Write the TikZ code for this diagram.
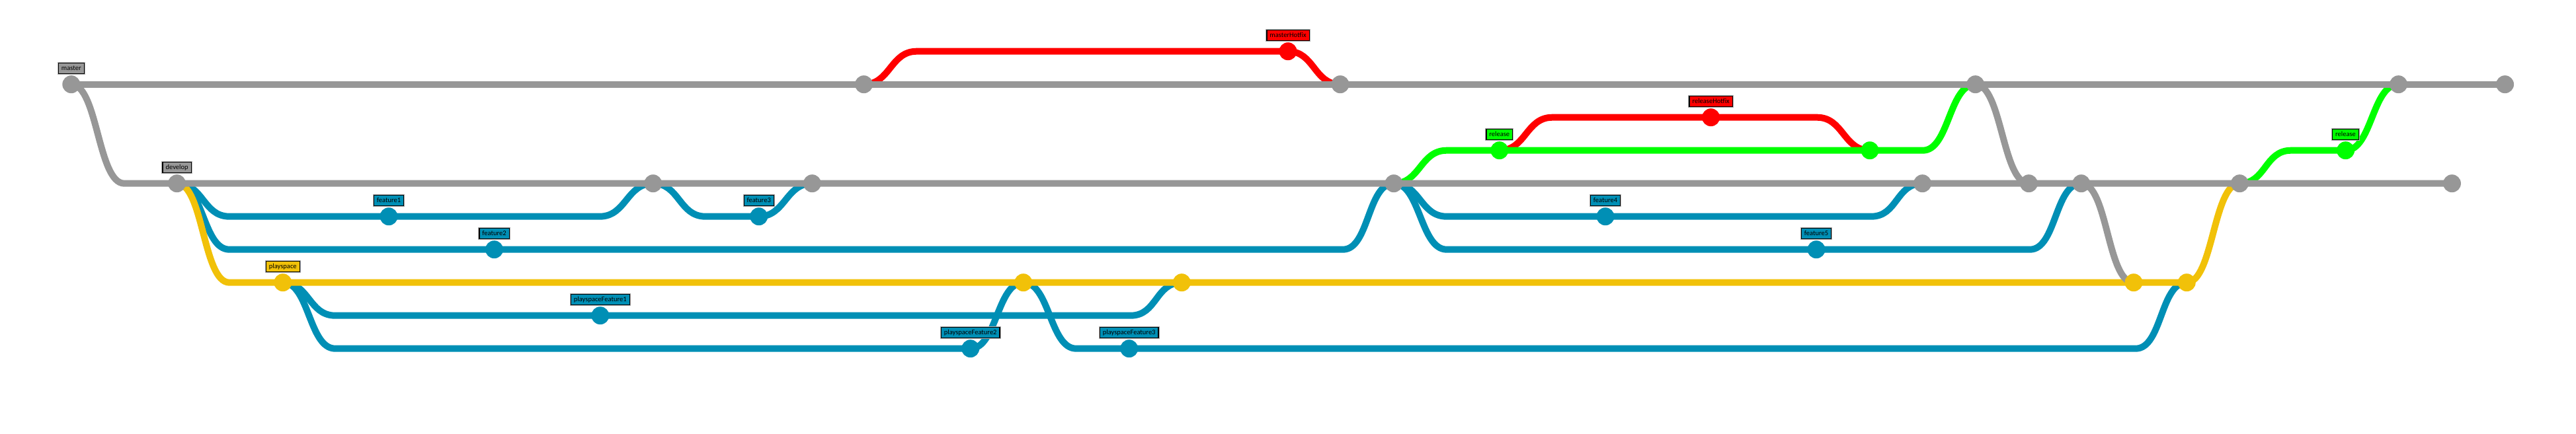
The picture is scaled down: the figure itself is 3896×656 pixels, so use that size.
\documentclass[tikz,border=0pt]{standalone}
\usepackage{fontspec}
\setmainfont{Carlito}
\pgfdeclarelayer{bg}
\pgfsetlayers{bg,main}
\definecolor{cgrey}{HTML}{979797}
\definecolor{cteal}{HTML}{008FB5}
\definecolor{cyel}{HTML}{F1C109}
\definecolor{cred}{HTML}{FF0000}
\definecolor{cgrn}{HTML}{00FF00}
\begin{document}
\begin{tikzpicture}[x=1pt,y=-1pt,
  cm/.style={circle,fill=#1,inner sep=0pt,minimum size=27pt},
  br/.style={draw=#1,line width=10pt},
  lbl/.style={fill=#1,draw=black,line width=1.2pt,
    preaction={draw=gray!60,line width=3.2pt},
    inner xsep=4.5pt,inner ysep=0pt,minimum height=16pt,
    text height=7.3pt,text depth=2.2pt,
    font=\fontsize{10.5}{12}\selectfont}]
\useasboundingbox (0,0) rectangle (3896,656);

% ---- commits ----
\node[cm=cgrey] (m1) at (107.8,127.7) {};
\node[cm=cgrey] (m2) at (1306.5,127.7) {};
\node[cm=cgrey] (m3) at (2027,127.7) {};
\node[cm=cgrey] (m4) at (2987.6,127.7) {};
\node[cm=cgrey] (m5) at (3627.5,127.7) {};
\node[cm=cgrey] (m6) at (3788.5,127.7) {};
\node[cm=cgrey] (d1) at (267.6,277.7) {};
\node[cm=cgrey] (d2) at (987.7,277.7) {};
\node[cm=cgrey] (d3) at (1228.3,277.7) {};
\node[cm=cgrey] (d4) at (2108,277.7) {};
\node[cm=cgrey] (d5) at (2907.5,277.7) {};
\node[cm=cgrey] (d6) at (3068.4,277.7) {};
\node[cm=cgrey] (d7) at (3147.7,277.7) {};
\node[cm=cgrey] (d8) at (3387.3,277.7) {};
\node[cm=cgrey] (d9) at (3708.4,277.7) {};
\node[cm=cred] (h1) at (1948,77.7) {};
\node[cm=cgrn] (r1) at (2267.8,227.7) {};
\node[cm=cgrn] (r3) at (2828,227.7) {};
\node[cm=cgrn] (r2) at (3547.5,227.7) {};
\node[cm=cred] (rh1) at (2587.6,177.7) {};
\node[cm=cteal] (f1) at (588,327.7) {};
\node[cm=cteal] (f2) at (747.5,377.7) {};
\node[cm=cteal] (f3) at (1147.7,327.7) {};
\node[cm=cteal] (f4) at (2428,327.7) {};
\node[cm=cteal] (f5) at (2747,377.7) {};
\node[cm=cyel] (p1) at (427.8,427.7) {};
\node[cm=cyel] (p2) at (1547.7,427.7) {};
\node[cm=cyel] (p3) at (1787.3,427.7) {};
\node[cm=cyel] (p4) at (3227,427.7) {};
\node[cm=cyel] (p5) at (3307.2,427.7) {};
\node[cm=cteal] (q1) at (907.8,477.7) {};
\node[cm=cteal] (q2) at (1467.7,527.7) {};
\node[cm=cteal] (q3) at (1707.7,527.7) {};

% ---- waypoints ----
\coordinate (a1) at (188,277.7);
\coordinate (b1) at (347,327.7);
\coordinate (b4) at (347,377.7);
\coordinate (c1) at (347,427.7);
\coordinate (b2) at (907,327.7);
\coordinate (b3) at (1067,327.7);
\coordinate (b5) at (2031,377.7);
\coordinate (b6) at (2188,327.7);
\coordinate (b8) at (2188,377.7);
\coordinate (g1) at (2188,227.7);
\coordinate (b7) at (2830,327.7);
\coordinate (b9) at (3070,377.7);
\coordinate (b10) at (507,477.7);
\coordinate (b12) at (507,527.7);
\coordinate (b11) at (1710,477.7);
\coordinate (b13) at (1627.7,527.7);
\coordinate (b14) at (3230,527.7);
\coordinate (h0) at (1386.5,77.7);
\coordinate (e1) at (2347.8,177.7);
\coordinate (e2) at (2748,177.7);
\coordinate (g2) at (2908,227.7);
\coordinate (g3) at (3465,227.7);

% ---- branch lines ----
\begin{pgfonlayer}{bg}
% red
\draw[br=cred] (m2.center) .. controls +(40,0) and +(-40,0) .. (h0) -- (h1.center)
  .. controls +(40,0) and +(-40,0) .. (m3.center);
\draw[br=cred] (r1.center) .. controls +(40,0) and +(-40,0) .. (e1) -- (rh1.center) -- (e2)
  .. controls +(40,0) and +(-40,0) .. (r3.center);
% teal
\draw[br=cteal] (d1.center) .. controls +(40,0) and +(-40,0) .. (b1) -- (f1.center) -- (b2)
  .. controls +(40,0) and +(-40,0) .. (d2.center);
\draw[br=cteal] (d2.center) .. controls +(40,0) and +(-40,0) .. (b3) -- (f3.center)
  .. controls +(40,0) and +(-40,0) .. (d3.center);
\draw[br=cteal] (d1.center) .. controls +(40,0) and +(-40,0) .. (b4) -- (f2.center) -- (b5)
  .. controls +(40,0) and +(-40,0) .. (d4.center);
\draw[br=cteal] (d4.center) .. controls +(40,0) and +(-40,0) .. (b6) -- (f4.center) -- (b7)
  .. controls +(40,0) and +(-40,0) .. (d5.center);
\draw[br=cteal] (d4.center) .. controls +(40,0) and +(-40,0) .. (b8) -- (f5.center) -- (b9)
  .. controls +(40,0) and +(-40,0) .. (d7.center);
\draw[br=cteal] (p1.center) .. controls +(40,0) and +(-40,0) .. (b10) -- (q1.center) -- (b11)
  .. controls +(40,0) and +(-40,0) .. (p3.center);
\draw[br=cteal] (p1.center) .. controls +(40,0) and +(-40,0) .. (b12) -- (q2.center)
  .. controls +(40,0) and +(-40,0) .. (p2.center);
\draw[br=cteal] (p2.center) .. controls +(40,0) and +(-40,0) .. (b13) -- (q3.center) -- (b14)
  .. controls +(40,0) and +(-40,0) .. (p5.center);
% green
\draw[br=cgrn] (d4.center) .. controls +(40,0) and +(-40,0) .. (g1) -- (r1.center) -- (r3.center) -- (g2)
  .. controls +(40,0) and +(-40,0) .. (m4.center);
\draw[br=cgrn] (d8.center) .. controls +(40,0) and +(-40,0) .. (g3) -- (r2.center)
  .. controls +(40,0) and +(-40,0) .. (m5.center);
% yellow
\draw[br=cyel] (d1.center) .. controls +(40,0) and +(-40,0) .. (c1) -- (p1.center) -- (p5.center);
\draw[br=cyel] (p5.center) .. controls +(40,0) and +(-40,0) .. (d8.center);
% grey
\draw[br=cgrey] (m1.center) -- (m6.center);
\draw[br=cgrey] (m1.center) .. controls +(40,0) and +(-40,0) .. (a1) -- (d9.center);
\draw[br=cgrey] (m4.center) .. controls +(40,0) and +(-40,0) .. (d6.center);
\draw[br=cgrey] (d7.center) .. controls +(40,0) and +(-40,0) .. (p4.center);
\end{pgfonlayer}

% ---- labels ----
\node[lbl=cgrey] (lm1) at ([yshift=24pt]m1.center) {master};
\node[lbl=cgrey] (ld1) at ([yshift=24pt]d1.center) {develop};
\node[lbl=cred] (lh1) at ([yshift=24pt]h1.center) {masterHotfix};
\node[lbl=cgrn] (lr1) at ([yshift=24pt]r1.center) {release};
\node[lbl=cgrn] (lr2) at ([yshift=24pt]r2.center) {release};
\node[lbl=cred] (lrh1) at ([yshift=24pt]rh1.center) {releaseHotfix};
\node[lbl=cteal] (lf1) at ([yshift=24pt]f1.center) {feature1};
\node[lbl=cteal] (lf2) at ([yshift=24pt]f2.center) {feature2};
\node[lbl=cteal] (lf3) at ([yshift=24pt]f3.center) {feature3};
\node[lbl=cteal] (lf4) at ([yshift=24pt]f4.center) {feature4};
\node[lbl=cteal] (lf5) at ([yshift=24pt]f5.center) {feature5};
\node[lbl=cyel] (lp1) at ([yshift=24pt]p1.center) {playspace};
\node[lbl=cteal] (lq1) at ([yshift=24pt]q1.center) {playspaceFeature1};
\node[lbl=cteal] (lq2) at ([yshift=24pt]q2.center) {playspaceFeature2};
\node[lbl=cteal] (lq3) at ([yshift=24pt]q3.center) {playspaceFeature3};
\end{tikzpicture}
\end{document}
